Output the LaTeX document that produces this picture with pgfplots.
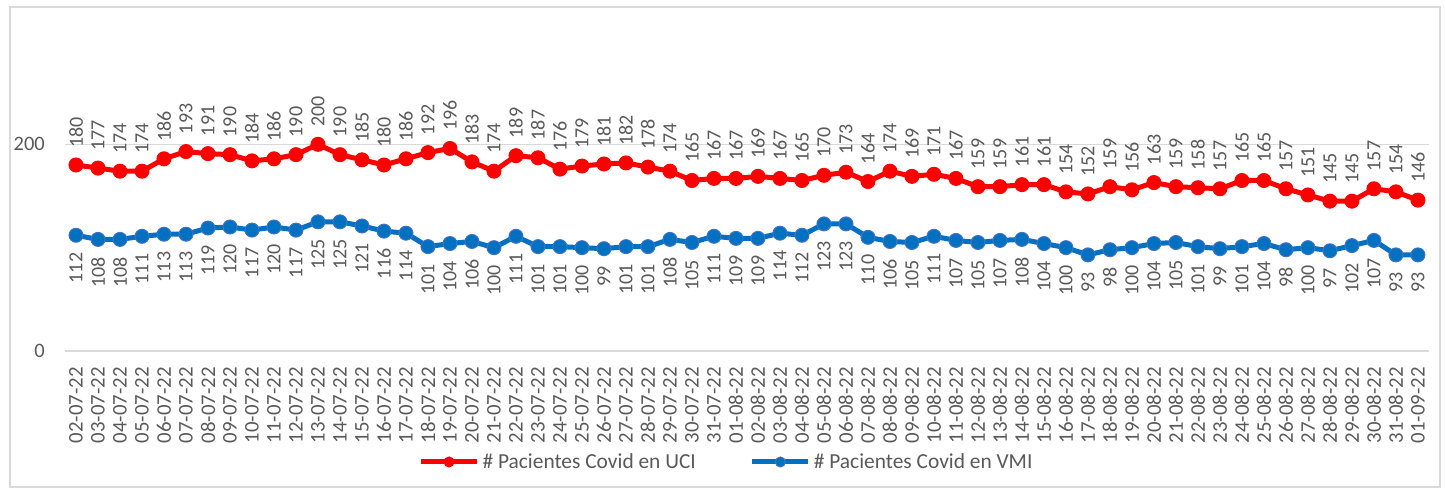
\documentclass[border=0pt]{standalone}
\usepackage{fontspec}
\setmainfont{Carlito}
\usepackage{pgfplots}
\usepackage{pgfplotstable}
\pgfplotsset{compat=1.18}
\definecolor{uci}{HTML}{FF0000}
\definecolor{vmi}{HTML}{0070C0}
\definecolor{vmiedge}{HTML}{4472C4}
\definecolor{txt}{HTML}{595959}
\definecolor{gridc}{HTML}{D9D9D9}
\pgfplotstableread{
x uci vmi
0 180 112
1 177 108
2 174 108
3 174 111
4 186 113
5 193 113
6 191 119
7 190 120
8 184 117
9 186 120
10 190 117
11 200 125
12 190 125
13 185 121
14 180 116
15 186 114
16 192 101
17 196 104
18 183 106
19 174 100
20 189 111
21 187 101
22 176 101
23 179 100
24 181 99
25 182 101
26 178 101
27 174 108
28 165 105
29 167 111
30 167 109
31 169 109
32 167 114
33 165 112
34 170 123
35 173 123
36 164 110
37 174 106
38 169 105
39 171 111
40 167 107
41 159 105
42 159 107
43 161 108
44 161 104
45 154 100
46 152 93
47 159 98
48 156 100
49 163 104
50 159 105
51 158 101
52 157 99
53 165 101
54 165 104
55 157 98
56 151 100
57 145 97
58 145 102
59 157 107
60 154 93
61 146 93
}\datatable
\begin{document}
\begin{tikzpicture}
\useasboundingbox (0,0) rectangle (1445pt,492pt);
\draw[gridc, line width=1.5pt] (10pt,5pt) rectangle (1440pt,485pt);
\begin{axis}[
  at={(65pt,141pt)}, anchor=south west,
  scale only axis, width=1364pt, height=310pt,
  xmin=-0.5, xmax=61.5, ymin=0, ymax=300,
  clip=false,
  axis line style={draw=none},
  major tick length=0pt,
  ytick={0,200},
  ymajorgrids, grid style={gridc, line width=1.5pt},
  xtick=data,
  xticklabels={02-07-22,03-07-22,04-07-22,05-07-22,06-07-22,07-07-22,08-07-22,09-07-22,10-07-22,11-07-22,12-07-22,13-07-22,14-07-22,15-07-22,16-07-22,17-07-22,18-07-22,19-07-22,20-07-22,21-07-22,22-07-22,23-07-22,24-07-22,25-07-22,26-07-22,27-07-22,28-07-22,29-07-22,30-07-22,31-07-22,01-08-22,02-08-22,03-08-22,04-08-22,05-08-22,06-08-22,07-08-22,08-08-22,09-08-22,10-08-22,11-08-22,12-08-22,13-08-22,14-08-22,15-08-22,16-08-22,17-08-22,18-08-22,19-08-22,20-08-22,21-08-22,22-08-22,23-08-22,24-08-22,25-08-22,26-08-22,27-08-22,28-08-22,29-08-22,30-08-22,31-08-22,01-09-22},
  xticklabel style={rotate=90, anchor=east, font=\fontsize{20.8}{24}\selectfont, text=txt, inner sep=0pt},
  xtick pos=bottom,
  xticklabel shift=16pt,
  yticklabel style={font=\fontsize{20.5}{24}\selectfont, text=txt, inner sep=0pt},
  yticklabel shift=20pt,
  /pgf/number format/assume math mode=true,
  legend columns=2,
  legend style={at={(0.485,-0.358)}, anchor=center, draw=none, fill=none,
    font=\fontsize{21.4}{24}\selectfont, text=txt,
    /tikz/every odd column/.append style={column sep=1pt},
    /tikz/every even column/.append style={column sep=52pt}},
  legend image code/.code={\draw[#1, mark repeat=2, mark phase=2, mark size=5pt] plot coordinates {(0pt,0pt) (28pt,0pt) (56pt,0pt)};},
]
\addplot[color=uci, line width=5pt, mark=*, mark size=7pt,
  mark options={fill=uci, draw=uci, line width=1pt},
  nodes near coords,
  nodes near coords style={rotate=90, anchor=west, inner xsep=17pt, inner ysep=0pt,
    font=\fontsize{20}{24}\selectfont, text=txt}]
  table[x=x, y=uci] {\datatable};
\addlegendentry{\# Pacientes Covid en UCI}
\addplot[color=vmi, line width=5pt, mark=*, mark size=7pt,
  mark options={fill=vmi, draw=vmiedge, line width=1pt},
  nodes near coords,
  nodes near coords style={rotate=90, anchor=east, inner xsep=17pt, inner ysep=0pt,
    font=\fontsize{20}{24}\selectfont, text=txt}]
  table[x=x, y=vmi] {\datatable};
\addlegendentry{\# Pacientes Covid en VMI}
\end{axis}
\end{tikzpicture}
\end{document}
